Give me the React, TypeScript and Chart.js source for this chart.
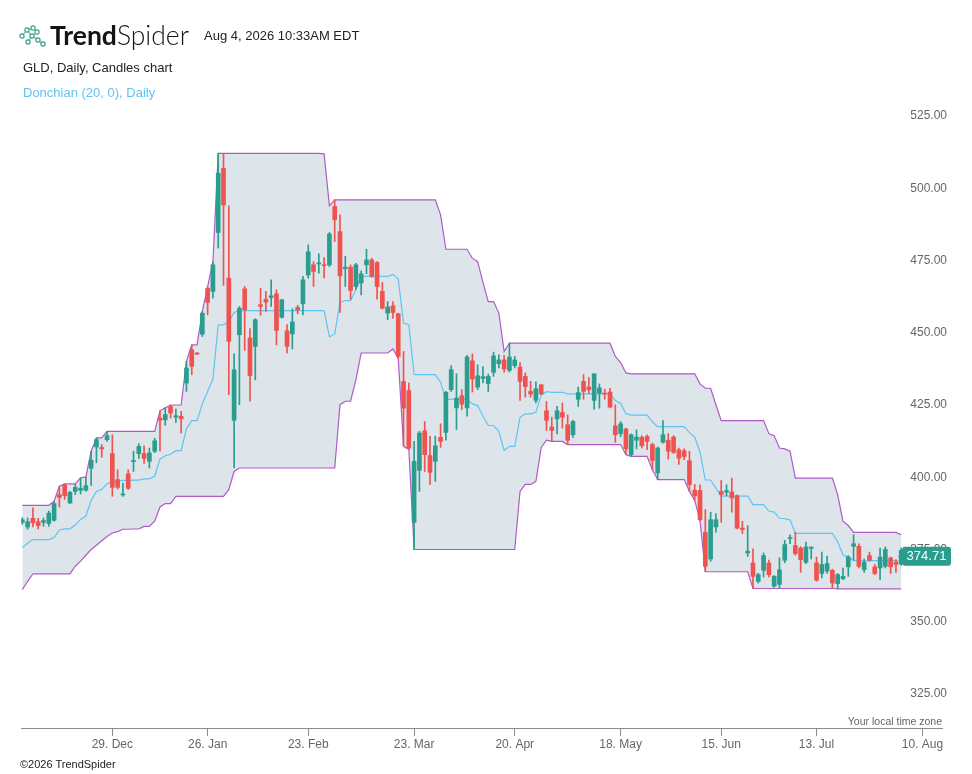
import React, { useEffect, useRef } from 'react';
import { Chart, registerables } from 'chart.js';

Chart.register(...registerables);

// ---- Data (GLD daily candles, 3 Dec 2025 .. 4 Aug 2026) ----
const opens = [
  384.4, 382.8, 385.8, 384.6, 384.4, 384.0, 385.1, 394.0, 397.3, 391.1,
  395.1, 395.5, 395.5, 403.1, 410.5, 410.3, 413.0, 408.2, 399.2, 393.9,
  401.2, 405.4, 408.2, 408.2, 405.5, 409.0, 420.5, 419.9, 424.5, 420.8,
  421.1, 432.6, 444.1, 443.0, 449.5, 465.4, 464.3, 484.7, 506.9, 468.9,
  419.7, 449.3, 465.2, 448.2, 445.3, 459.7, 461.6, 462.2, 463.5, 455.3,
  450.7, 449.6, 458.8, 460.0, 470.0, 473.5, 473.8, 473.5, 473.5, 493.7,
  485.0, 472.2, 472.7, 466.0, 467.2, 473.5, 475.2, 474.3, 464.3, 456.8,
  459.3, 456.6, 433.2, 430.0, 384.4, 402.4, 416.1, 407.5, 405.5, 413.8,
  415.5, 430.3, 424.0, 428.2, 424.0, 440.3, 431.2, 434.2, 432.4, 436.3,
  439.3, 440.6, 437.0, 438.6, 438.1, 434.9, 429.7, 426.6, 432.0, 423.0,
  417.4, 420.2, 422.4, 418.2, 414.7, 427.0, 433.2, 431.2, 426.6, 429.1,
  429.1, 429.5, 417.8, 415.1, 416.7, 407.8, 412.8, 413.8, 414.1, 411.3,
  401.5, 412.1, 412.8, 413.9, 409.5, 409.2, 405.7, 395.5, 395.4, 380.9,
  371.7, 382.8, 395.1, 394.8, 394.9, 393.6, 382.4, 373.8, 370.3, 364.0,
  367.8, 370.3, 362.3, 362.9, 371.3, 378.8, 376.4, 375.5, 370.6, 375.4,
  370.4, 366.7, 367.5, 367.8, 363.2, 364.9, 369.0, 376.1, 376.1, 368.0,
  372.9, 369.0, 368.6, 369.2, 372.1, 370.6, 370.0,
];
const highs = [
  386.0, 385.9, 389.4, 385.8, 385.9, 388.3, 391.7, 396.9, 397.7, 395.1,
  397.7, 399.8, 400.1, 409.0, 413.6, 411.3, 415.9, 414.7, 402.6, 398.0,
  402.6, 409.0, 411.6, 410.9, 410.1, 413.5, 423.0, 424.0, 425.0, 423.6,
  422.8, 440.1, 445.8, 443.1, 457.4, 466.0, 474.6, 512.1, 511.9, 493.9,
  442.7, 459.1, 466.0, 451.4, 454.8, 465.4, 464.3, 468.3, 464.9, 461.6,
  452.8, 458.3, 459.5, 469.5, 480.4, 474.6, 477.3, 476.0, 484.7, 496.0,
  490.8, 476.4, 473.5, 474.0, 471.4, 478.9, 475.8, 474.6, 467.4, 460.8,
  460.8, 456.8, 443.5, 432.6, 412.4, 415.9, 419.3, 414.2, 414.2, 418.5,
  429.7, 438.6, 435.8, 430.3, 442.2, 442.7, 438.9, 438.3, 435.7, 443.3,
  442.4, 442.2, 446.4, 441.8, 439.7, 436.1, 433.2, 433.0, 432.2, 426.2,
  420.8, 424.5, 425.7, 421.6, 419.7, 431.2, 435.5, 434.6, 435.8, 432.3,
  430.5, 430.8, 425.1, 419.3, 417.0, 415.0, 416.4, 414.4, 414.7, 411.8,
  410.5, 419.6, 415.1, 414.4, 410.1, 409.8, 409.0, 397.5, 397.4, 388.8,
  387.9, 387.4, 398.9, 397.4, 399.7, 393.9, 384.8, 383.3, 375.2, 366.8,
  373.8, 371.3, 366.0, 372.1, 378.2, 380.1, 380.9, 376.0, 377.6, 376.0,
  372.4, 374.1, 372.7, 368.2, 366.7, 368.6, 372.9, 380.1, 377.0, 371.7,
  374.1, 369.8, 375.5, 375.9, 372.4, 371.5, 375.5,
];
const lows = [
  383.7, 382.0, 382.8, 382.1, 383.0, 383.0, 384.8, 389.7, 392.3, 390.9,
  394.0, 394.2, 395.2, 397.2, 405.0, 406.9, 412.4, 393.4, 395.9, 393.4,
  395.7, 402.0, 406.5, 404.8, 403.2, 408.5, 409.0, 418.0, 420.5, 419.0,
  415.3, 429.7, 435.5, 442.5, 448.7, 456.2, 462.0, 479.3, 466.4, 428.6,
  403.2, 425.1, 443.9, 426.3, 433.7, 456.0, 457.4, 459.1, 445.8, 455.1,
  443.0, 444.4, 456.6, 456.2, 468.9, 466.0, 470.6, 469.0, 472.9, 481.6,
  457.0, 466.0, 461.6, 465.0, 463.1, 470.4, 469.2, 461.6, 458.2, 454.5,
  455.0, 441.2, 410.7, 409.6, 375.0, 395.1, 402.0, 397.5, 398.6, 410.3,
  412.8, 429.7, 416.5, 423.4, 421.1, 429.5, 430.3, 432.6, 429.7, 434.9,
  437.8, 436.4, 436.4, 437.8, 426.6, 427.7, 427.7, 425.7, 428.6, 416.2,
  412.4, 415.0, 417.0, 411.3, 413.8, 424.5, 427.0, 428.9, 423.6, 423.9,
  427.0, 424.0, 412.1, 414.0, 407.8, 407.2, 409.8, 410.1, 409.5, 402.6,
  399.2, 411.8, 406.3, 408.2, 404.4, 406.1, 395.1, 392.0, 385.0, 367.3,
  370.9, 381.0, 384.4, 393.6, 387.9, 382.1, 380.5, 372.6, 361.5, 363.4,
  365.5, 365.5, 362.0, 361.5, 370.4, 377.0, 373.0, 367.1, 370.1, 371.7,
  364.0, 365.2, 366.7, 361.7, 361.4, 364.6, 365.7, 371.3, 368.6, 367.1,
  370.9, 366.3, 364.6, 368.6, 366.7, 367.1, 369.5,
];
const closes = [
  385.3, 384.6, 384.2, 383.3, 385.0, 387.6, 390.9, 393.0, 393.6, 394.8,
  396.5, 396.2, 397.1, 405.9, 413.0, 409.8, 414.4, 396.5, 396.5, 394.2,
  396.2, 405.8, 410.7, 406.5, 408.4, 412.6, 419.7, 421.7, 422.2, 421.3,
  420.2, 437.8, 438.4, 442.6, 456.8, 460.5, 473.5, 505.2, 494.2, 447.0,
  437.2, 458.5, 457.9, 435.2, 454.5, 459.1, 460.6, 462.8, 450.8, 461.4,
  445.3, 453.7, 457.9, 468.3, 478.0, 471.2, 474.2, 473.2, 484.2, 489.1,
  469.7, 472.7, 464.6, 473.5, 470.4, 475.2, 469.5, 466.0, 458.5, 458.9,
  457.0, 441.8, 423.9, 410.1, 405.5, 415.3, 407.8, 401.7, 410.9, 412.4,
  429.4, 437.2, 427.4, 425.3, 441.6, 434.0, 435.1, 434.8, 434.9, 442.0,
  440.6, 437.5, 441.6, 440.6, 433.2, 431.4, 428.8, 430.6, 428.8, 419.7,
  416.2, 423.0, 420.8, 412.8, 419.3, 429.3, 429.7, 430.3, 435.8, 430.9,
  428.8, 424.3, 414.7, 418.5, 409.8, 414.7, 413.9, 410.9, 412.4, 405.8,
  410.1, 414.7, 409.0, 408.6, 406.6, 407.2, 397.4, 393.5, 385.3, 369.2,
  385.3, 385.3, 394.0, 395.4, 392.8, 382.4, 381.9, 374.4, 365.7, 366.3,
  372.9, 366.3, 365.7, 368.0, 376.7, 379.1, 373.6, 371.5, 375.9, 375.8,
  364.4, 369.8, 370.1, 363.4, 366.3, 365.7, 372.4, 377.0, 369.2, 370.6,
  371.3, 366.7, 372.4, 375.0, 369.0, 369.8, 374.71,
];
// The 19 sessions before the first visible candle (only used for the channel's look-back)
const priorHighs = [368, 371, 376, 378, 377, 376, 375, 374, 373, 374, 376, 378, 380, 382, 384, 385, 387, 390.3, 389];
const priorLows = [361.1, 364.0, 370.5, 372.0, 369.8, 371.5, 368.9, 370.2, 367.8, 366.6, 369.2, 371.0, 373.0, 375.0, 376.5, 378.0, 379.5, 380.7, 381.2];

const donchianPeriod = 20;
const lastPrice = 374.71;

const dateTickIndex = [17, 35, 54, 74, 93, 113, 132, 150, 170];
const dateTickLabels = ['29. Dec', '26. Jan', '23. Feb', '23. Mar', '20. Apr', '18. May', '15. Jun', '13. Jul', '10. Aug'];
const priceTicks = [325, 350, 375, 400, 425, 450, 475, 500, 525];

const UP = '#2a9d8f';
const DOWN = '#ef5350';
const FONT = '"Liberation Sans", Arial, Helvetica, sans-serif';

// Donchian channel (highest high / lowest low over the period, incl. current bar)
const allHighs = [...priorHighs, ...highs];
const allLows = [...priorLows, ...lows];
const off = priorHighs.length;
const upperBand = highs.map((_, i) => Math.max(...allHighs.slice(i + off - donchianPeriod + 1, i + off + 1)));
const lowerBand = lows.map((_, i) => Math.min(...allLows.slice(i + off - donchianPeriod + 1, i + off + 1)));
const midBand = upperBand.map((u, i) => (u + lowerBand[i]) / 2);

const candleColors = closes.map((c, i) => (c >= opens[i] ? UP : DOWN));

const priceLabelPlugin = {
  id: 'priceLabel',
  afterDraw(chart: any) {
    const ctx = chart.ctx;
    const y = chart.scales.y.getPixelForValue(lastPrice) + 6;
    const x0 = chart.chartArea.right - 40;
    const w = 49;
    const h = 19;
    ctx.save();
    ctx.fillStyle = UP;
    ctx.beginPath();
    if (ctx.roundRect) ctx.roundRect(x0, y - h / 2, w, h, 3);
    else ctx.rect(x0, y - h / 2, w, h);
    ctx.fill();
    ctx.beginPath();
    ctx.moveTo(x0 - 4, y);
    ctx.lineTo(x0 + 1, y - 5);
    ctx.lineTo(x0 + 1, y + 5);
    ctx.closePath();
    ctx.fill();
    ctx.fillStyle = '#ffffff';
    ctx.font = '13px ' + FONT;
    ctx.textAlign = 'center';
    ctx.textBaseline = 'middle';
    ctx.fillText(lastPrice.toFixed(2), x0 + w / 2, y + 0.5);
    ctx.restore();
  },
};

function Logo() {
  const pts: [number, number][] = [[3, 12], [8, 6], [14, 4], [13, 12], [9, 18], [19, 16], [24, 20], [18, 8]];
  const links: [number, number][] = [[0, 1], [1, 2], [1, 3], [3, 4], [3, 5], [5, 6], [3, 7]];
  return (
    <svg width={28} height={24} viewBox="0 0 28 24" style={{ position: 'absolute', left: 19, top: 24 }}>
      {links.map(([a, b], k) => (
        <line key={'l' + k} x1={pts[a][0]} y1={pts[a][1]} x2={pts[b][0]} y2={pts[b][1]} stroke="#3d9e8a" strokeWidth={1} />
      ))}
      {pts.map(([x, y], k) => (
        <circle key={'c' + k} cx={x} cy={y} r={2.1} fill="#fff" stroke="#3d9e8a" strokeWidth={1.2} />
      ))}
    </svg>
  );
}

export default function App() {
  const canvasRef = useRef<HTMLCanvasElement>(null);

  useEffect(() => {
    if (!canvasRef.current) return;
    const idx = closes.map((_, i) => i);
    const chart = new Chart(canvasRef.current, {
      type: 'bar',
      data: {
        datasets: [
          {
            type: 'line',
            label: 'Upper',
            data: idx.map((i) => ({ x: i, y: upperBand[i] })),
            borderColor: '#b05ac8',
            borderWidth: 1.2,
            pointRadius: 0,
            tension: 0,
            fill: '+1',
            backgroundColor: '#dde5ea',
            order: 5,
          } as any,
          {
            type: 'line',
            label: 'Lower',
            data: idx.map((i) => ({ x: i, y: lowerBand[i] })),
            borderColor: '#b05ac8',
            borderWidth: 1.2,
            pointRadius: 0,
            tension: 0,
            fill: false,
            order: 4,
          } as any,
          {
            type: 'line',
            label: 'Middle',
            data: idx.map((i) => ({ x: i, y: midBand[i] })),
            borderColor: '#5fc4f0',
            borderWidth: 1.2,
            pointRadius: 0,
            tension: 0,
            fill: false,
            order: 3,
          } as any,
          {
            type: 'bar',
            label: 'Wicks',
            data: idx.map((i) => ({ x: i, y: [lows[i], highs[i]] })),
            backgroundColor: candleColors,
            barThickness: 1,
            borderWidth: 0,
            grouped: false,
            order: 2,
          } as any,
          {
            type: 'bar',
            label: 'Bodies',
            data: idx.map((i) => ({ x: i, y: [opens[i], closes[i]] })),
            backgroundColor: candleColors,
            barThickness: 4,
            minBarLength: 1,
            borderWidth: 0,
            grouped: false,
            order: 1,
          } as any,
        ],
      },
      options: {
        responsive: false,
        animation: false,
        events: [],
        layout: { padding: { left: 21, right: 30, top: 100, bottom: 23 } },
        plugins: {
          legend: { display: false },
          tooltip: { enabled: false },
          title: { display: false },
        },
        scales: {
          x: {
            type: 'linear',
            min: -0.25,
            max: 173.7,
            offset: false,
            afterBuildTicks: (s: any) => {
              s.ticks = dateTickIndex.map((v) => ({ value: v }));
            },
            afterFit: (s: any) => {
              s.height = 23;
            },
            ticks: {
              autoSkip: false,
              maxRotation: 0,
              padding: 1,
              color: '#666666',
              font: { size: 12, family: FONT },
              callback: (_v: any, index: number) => dateTickLabels[index],
            },
            grid: {
              offset: false,
              drawOnChartArea: false,
              drawTicks: true,
              tickLength: 8,
              color: '#8c8c8c',
              lineWidth: 1,
            },
            border: { display: true, color: '#8c8c8c', width: 1 },
          },
          y: {
            type: 'linear',
            position: 'right',
            min: 313.235,
            max: 530.536,
            beginAtZero: false,
            afterBuildTicks: (s: any) => {
              s.ticks = priceTicks.map((v) => ({ value: v }));
            },
            afterFit: (s: any) => {
              s.width = 0;
            },
            ticks: {
              mirror: true,
              padding: 5,
              color: '#666666',
              font: { size: 12, family: FONT },
              callback: (v: any) => Number(v).toFixed(2),
            },
            grid: { display: false, drawTicks: false },
            border: { display: false },
          },
        },
      } as any,
      plugins: [priceLabelPlugin],
    });
    return () => chart.destroy();
  }, []);

  const txt: React.CSSProperties = { position: 'absolute', whiteSpace: 'nowrap', fontFamily: FONT };

  return (
    <div style={{ position: 'absolute', left: 0, top: 0, width: 972, height: 774, background: '#ffffff', overflow: 'hidden' }}>
      <canvas ref={canvasRef} width={972} height={774} style={{ position: 'absolute', left: 0, top: 0, width: 972, height: 774 }} />
      <Logo />
      <div style={{ ...txt, left: 50, top: 19, fontFamily: 'Lato, "Open Sans", sans-serif', fontSize: 26.5, lineHeight: '32px', color: '#141414' }}>
        <span style={{ fontWeight: 700 }}>Trend</span>
        <span style={{ fontWeight: 300 }}>Spider</span>
      </div>
      <div style={{ ...txt, left: 204, top: 28, fontSize: 13, lineHeight: '16px', color: '#222' }}>Aug 4, 2026 10:33AM EDT</div>
      <div style={{ ...txt, left: 23, top: 60, fontSize: 13, lineHeight: '16px', color: '#222' }}>GLD, Daily, Candles chart</div>
      <div style={{ ...txt, left: 23, top: 85, fontSize: 13, lineHeight: '16px', color: '#62c3ef' }}>Donchian (20, 0), Daily</div>
      <div style={{ ...txt, right: 30, top: 714, fontSize: 10.5, lineHeight: '14px', color: '#666' }}>Your local time zone</div>
      <div style={{ ...txt, left: 20, top: 757, fontSize: 11, lineHeight: '14px', color: '#222' }}>©2026 TrendSpider</div>
    </div>
  );
}
